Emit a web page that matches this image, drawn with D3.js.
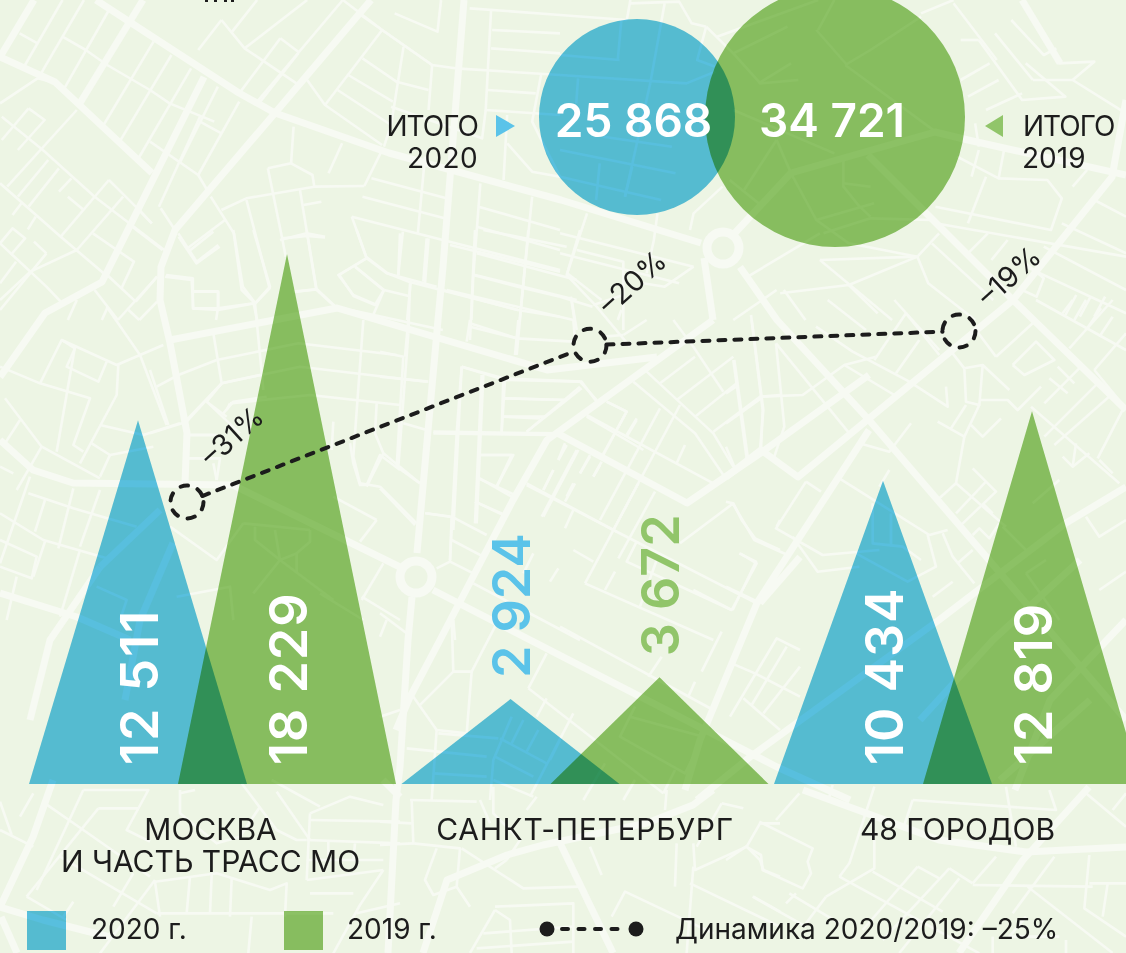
<!DOCTYPE html>
<html lang="ru"><head><meta charset="utf-8">
<script src="https://cdn.jsdelivr.net/npm/d3@7/dist/d3.min.js"></script>
<style>html,body{margin:0;padding:0;background:#edf5e4}svg{display:block}
text{font-family:Inter,"Noto Sans",sans-serif}</style></head><body>
<svg id="c" width="1126" height="953" viewBox="0 0 1126 953"></svg>
<script>
// ---- chart data
const categories = ["МОСКВА|И ЧАСТЬ ТРАСС МО", "САНКТ-ПЕТЕРБУРГ", "48 ГОРОДОВ"];
const values2020 = [12511, 2924, 10434];
const values2019 = [18229, 3672, 12819];
const dynamics = [-31, -20, -19];
const total2020 = 25868;
const total2019 = 34721;
const legendLabels = ["2020 г.", "2019 г.", "Динамика 2020/2019: –25%"];

const majorRoads = [
 "96,0 239,93 275,113 389,153 561,200 701,243","740,267 777,320 869,420 983,553 1126,720",
 "464,0 443,267 438,320 417,553","412,597 408,640 400,767 396,800 388,953",
 "371,0 275,113 175,230 161,267 160,300 170,343 187,433 185,483",
 "0,440 33,470 73,483 233,485 400,567","433,590 777,767 850,800",
 "143,0 80,103","0,57 55,82 152,173","204,77 102,282 45,313 0,377","34,0 0,57",
 "170,340 337,308 547,370 657,357","713,320 547,440 513,500 440,640 410,697 396,730",
 "733,235 791,173 935,132 968,140 1126,175","713,320 704,258",
 "557,433 687,503 762,452 869,375","726,477 761,450 798,477 1013,300 1112,177 1126,100",
 "869,430 757,603 700,740 685,790","1126,487 1066,523 939,620 750,757 697,800",
 "868,155 1013,300 1126,410","1022,0 1060,63",
 "53,780 33,837 0,907","0,907 43,920 110,937","1,917 17,953","383,780 400,797",
 "713,790 693,805 647,823 543,845 507,855 447,880 423,953","560,843 613,953",
 "803,790 866,813 939,840 1026,852 1126,847","1089,787 1023,860 959,953",
 "100,567 160,510","173,543 140,620 125,700","100,567 50,640 30,720",
 "0,593 77,617 130,640","920,720 993,640 1080,560","1000,780 1090,700",
 "1126,620 1050,700 1015,790","800,557 760,603"
];
const minorBlocks = [
 {o:[0,0,2.8,3],l:["0,310 105,235 160,250","55,100 105,130","70,195 175,0","115,220 235,0","175,110 240,150 300,195 420,270 475,310 600,365","180,265 305,30","290,375 430,125","335,425 480,165","385,480 535,205","420,425 555,525 580,570","505,485 610,260","555,525 670,305","560,365 620,400","445,620 560,350","450,625 490,690","425,670 390,630","500,710 550,790 615,740","525,745 630,660","590,590 655,700 680,860 715,910 755,865 690,600","620,630 690,595 880,560 1020,558","750,505 815,490 875,525 880,560","750,505 790,715 800,770","815,490 822,380","840,570 885,865 940,920 1240,990","850,615 900,605","790,715 860,708 910,712","830,875 885,868","985,650 1025,770 1085,820 1145,845 1450,930 1568,950","985,650 1240,720 1568,810","1015,590 1245,655","1040,535 1250,595","1020,558 1070,450","950,825 1025,775","950,825 990,888 1050,915 1075,870 1145,888","995,800 1075,870","1045,945 1075,870","1115,825 1128,695","1190,850 1200,715","1170,700 1190,470","920,520 958,430","860,240 910,315 1070,435","910,315 1070,90","945,270 1095,375","975,225 1100,305","1015,175 1110,245 1200,270","1130,140 1095,375 1075,440","1105,40 1225,95 1235,0","1010,45 1210,195 1275,205 1568,225","1210,195 1200,330","1375,30 1360,330 1568,345","1315,25 1568,45","1378,90 1568,100","1375,145 1568,160","1365,270 1500,280","1095,320 1350,415 1360,330","1420,345 1410,540","1420,430 1490,515 1568,530","1515,225 1490,365 1568,530","1345,550 1325,830 1320,960","1490,590 1455,960","1340,620 1568,690","1335,680 1568,750","1260,735 1568,815","1325,825 1450,860 1568,890","1240,870 1450,930","1150,845 1140,960","620,60 555,150","620,60 685,145 830,250","650,95 720,0","685,145 860,0","720,305 960,0","670,280 785,115","725,310 835,160","785,115 835,155","960,0 1070,90 1210,195","5,350 120,450 265,590 460,750","80,325 125,360 50,450","80,325 5,420","215,330 20,560","135,480 50,590","165,505 80,620","200,535 165,575","190,590 232,628","305,540 170,710","345,590 215,750","305,540 380,620 425,670","0,550 170,710 290,820","35,645 60,610","100,650 78,688","0,730 35,685 70,715 30,765","0,730 130,860 170,905","95,725 130,760","130,760 0,930","215,750 85,815 0,900","45,785 0,850","260,700 375,785 340,865","370,680 455,750","300,825 380,905","265,870 330,960","440,830 330,960","215,900 190,960","300,925 285,960","380,905 440,830","360,930 390,960","440,905 390,960","465,825 540,835 540,925 610,925 710,910 720,960","540,875 610,875 610,925 605,960"]},
 {o:[560,0,2.77,3],l:["0,45 185,60","185,60 195,0","195,10 330,5 365,70 405,80","290,10 275,100 250,250","405,80 380,180 430,200","405,80 480,160 555,250 660,240","0,165 165,180","0,225 350,250 430,215","160,180 170,60","50,235 45,310","250,250 180,590","110,490 100,600","0,450 320,520","0,530 280,600","120,410 310,440","200,500 180,590","435,110 715,0","480,160 630,80","715,90 760,0","710,90 795,195","550,250 640,190","790,195 860,150 1000,50","790,195 1040,395","1000,40 1090,0","1090,10 1210,180","1110,120 1160,120","1160,120 1280,300 1400,290 1290,190","1205,100 1310,240","1250,60 1340,165 1375,145","1190,190 1110,240","1215,240 1130,290","1380,190 1480,185 1420,240 1568,340","1310,240 1420,240","1280,280 1180,330","1150,370 1160,440","1230,450 1215,535 1100,470","1140,530 1160,450","1180,530 1130,670","1215,535 1350,540 1390,595 1360,690 1040,620","1040,670 1568,770","1050,700 990,770 720,780","1420,560 1460,510","1185,700 1130,760","1240,720 1195,780","1480,600 1568,650","1390,670 1568,760","1340,740 1568,870","1290,790 1340,835 1320,890 1280,870","1290,800 1568,940","1430,885 1400,945","1470,890 1440,950","1510,890 1480,950","990,770 1020,850 1150,960","1030,730 1200,900","990,770 800,855 610,880","800,855 880,940","720,780 920,960","620,870 680,960","520,830 720,700","480,960 600,870","75,640 20,820 115,900","0,700 370,800","0,760 330,850","270,640 260,720 240,820","360,690 370,640 450,560","230,850 290,860 370,800","0,890 90,920","30,890 40,960","160,960 170,930","600,420 640,520","600,420 510,570","470,540 550,610","640,520 710,660 800,730 990,770","710,660 870,610","730,700 860,655 1030,660","785,550 860,560","785,480 785,560 830,620 860,650","480,330 760,460"]},
 {o:[150,230,3,3],l:["45,140 125,150 130,235 205,240 205,185 130,185","205,240 315,220","250,0 275,180 315,220 360,170 310,0","85,10 140,95 205,45","115,65 190,5","390,30 470,10 525,20","470,0 500,180 560,235","315,220 340,480","430,185 500,178","190,310 215,460 170,515","200,390 445,340 740,375","85,435 200,390","20,470 85,435","215,460 450,410 830,455","110,575 215,460","0,610 110,575","170,515 230,560","240,520 480,495 750,525","230,540 240,520","0,420 55,585","115,615 200,615","115,685 210,685 200,750","640,270 610,680 630,760 690,770 800,880","775,310 745,710","650,770 700,670 810,760","680,520 675,610 700,670","550,575 545,660","760,580 830,600","650,85 565,135 610,195 680,225","615,110 700,180","650,85 710,130 860,170","890,180 1270,270","750,10 745,135","830,25 820,155","780,160 775,310","620,0 650,85","975,0 960,330","1135,0 1100,375","960,290 1100,325","980,70 1280,150","975,135 1280,210","1000,0 1250,50","1290,0 1250,135 1340,230 1440,350","1265,210 1280,300","1330,225 1420,195","1280,60 1420,95 1420,300","935,410 1060,445 1295,455 1340,515","935,410 910,900","1000,435 980,880","1060,445 1055,605","1060,505 1250,510","1060,560 1170,565","850,605 1220,610","1295,475 1130,605","985,675 1085,675 1040,770","980,740 1085,800","975,815 1060,855","830,850 900,860","1370,515 1430,545 1355,680","1310,560 1480,660","1460,570 1430,620","1250,645 1225,690","1280,660 1175,860","1320,680 1290,730","1350,705 1330,740","1210,720 1180,780","1130,765 1400,905","1270,760 1250,800"]},
 {o:[380,320,3,3],l:["0,95 70,110 50,440 120,490","0,170 145,185","85,0 75,110","270,0 260,65","270,10 410,55","415,0 405,105","410,55 580,65","580,0 585,60","730,45 800,0","670,50 730,45","880,0 940,80 1030,215","600,185 650,240","375,180 600,185","600,200 440,335","375,235 555,240","370,290 495,290","375,180 365,335","245,140 230,340 210,720","245,140 375,180","305,165 285,610","160,340 520,345","300,405 400,405 350,500","295,475 405,525","285,545 375,585","135,580 215,590 320,645","215,590 210,725 170,745","215,660 310,710","210,725 280,760","0,505 105,615","620,285 1000,490","680,245 740,275 670,405","770,295 740,345","840,265 660,600","900,255 700,630","760,185 945,340 1030,465","800,155 1000,340 1060,440","890,240 1060,110","945,290 1070,190","1000,335 1140,230 1200,225","840,190 945,110","1060,120 1100,415","1115,0 1150,270 1140,390","890,430 915,375","440,490 700,630 1130,850","555,370 535,420","595,390 490,590","630,405 600,460","665,425 640,470","520,450 490,510","585,490 555,545","580,570 555,625","775,490 615,790","825,515 715,715","580,690 640,725","535,745 510,785","460,700 430,760","705,755 675,810","770,665 740,725 1055,870 1130,730 1080,700","940,810 1055,870","900,670 1060,550 1085,600 1125,655 1200,690","1190,620 1200,600","280,790 600,960","615,790 1000,960","830,720 780,860","220,900 225,960"]},
 {o:[380,500,3,3],l:["0,340 80,400","100,590 170,690 260,700","120,615 220,515 275,515 350,370","220,515 215,360","0,410 20,360","0,650 60,630","275,515 260,700","170,690 155,900","80,745 320,770","160,820 320,830","175,700 355,715","445,565 500,460","445,565 850,880","500,595 470,650","580,640 450,890","395,650 340,780 330,900","430,660 395,730","475,690 440,755","360,715 500,790","345,770 460,830","510,780 540,720","765,620 720,710 915,820 970,710 750,650","675,790 610,900","885,810 850,880","765,840 730,900","340,840 460,890","1050,650 1190,415 1260,450","1090,595 1200,690","1115,615 1220,440","1150,640 1260,500","1125,520 1260,590","1055,490 1125,520","965,515 1025,395","925,590 945,545","805,530 845,470","540,380 1000,630"]},
 {o:[726,300,3,3],l:["75,45 110,330 105,450","25,180 65,470","150,130 175,380 145,470","150,130 370,400","105,290 230,285 355,195 505,285","355,195 450,170","0,370 105,295","0,280 30,260","0,440 25,500","305,0 420,90","270,80 380,155 550,245 665,320 660,260","445,180 540,40 640,165","510,220 580,120","505,0 640,150","715,205 720,305 760,315 770,195 715,205","765,300 845,300 875,330 945,260","770,195 850,270","680,160 715,205","720,315 675,385","760,315 715,410 635,365","715,410 690,550 640,595","735,375 770,410 825,355","490,510 460,560","400,430 490,455 555,370","690,550 840,680","740,505 810,575 700,680","780,545 690,640","770,610 800,640","915,320 1180,550","810,170 920,70","750,90 810,170","860,195 930,125 985,180 895,225 860,195","1065,200 955,310","995,200 1045,250","970,235 1025,280","1115,250 955,410","1155,285 985,435","1195,320 1115,475","1050,430 1040,500 1010,470","1090,460 1040,500","1120,480 1160,520","1010,40 1040,0","1045,60 1080,0","1080,90 1125,25","1120,110 1160,50","1030,145 1160,0","1105,210 1200,100","930,0 1200,150","1195,320 1105,210","340,535 610,705 665,690","240,545 285,575","240,545 150,685 290,765 460,750","200,710 275,815 400,800","605,705 630,800 545,845 390,760","650,700 680,770 745,850","695,790 740,750","740,705 760,685 790,715 820,670","0,605 20,610 85,720 185,765","40,760 90,785 20,930","0,860 95,905","920,610 1000,540","900,820 960,780","900,820 1000,960","830,680 900,750","1080,650 1120,710 1200,660","1120,870 1200,815","620,890 680,845","440,610 440,730 530,740 585,780","495,640 495,740"]},
 {o:[0,300,3,3],l:["0,200 120,250 270,295 220,435 250,455","120,250 185,120 350,195 490,135","185,120 225,145 200,200 295,245 320,185","320,20 420,165 500,375","225,140 170,455","355,195 350,285 240,490","15,295 125,440 300,535","125,440 50,570","60,360 15,430","0,500 40,520","300,375 430,405 540,370","275,430 330,465 460,440","330,465 300,530","620,305 720,400","560,360 665,250 780,225","670,340 700,305 800,290","565,405 640,405","640,490 650,540","90,530 0,790","85,580 220,625 340,660 410,680","135,600 105,695","220,565 175,745","300,570 240,740","0,640 130,720 320,775","0,720 110,770 95,835 0,800","135,725 100,830","50,830 20,960","240,750 180,950","290,860 380,900 360,960","510,680 650,780 730,670","730,670 930,690","765,680 765,720 840,780 890,760","825,690 840,780","840,780 760,880","1130,660 1080,725","930,690 930,725 890,760 890,820","1000,590 1130,660","1050,430 1060,490 1080,555 1100,555 1140,465 1200,510","1150,790 1085,900","1085,890 1200,960","960,880 1090,960","530,890 690,860 700,960","840,780 1000,900"]},
 {o:[0,780,3,3],l:["0,65 35,165","60,110 100,40","135,70 250,150 450,290","0,150 100,200","250,30 445,30 380,150 450,185","295,85 415,85","295,85 80,350","250,30 110,330","80,350 200,420","180,230 470,400","465,305 480,410","465,305 650,280 810,330 860,310 855,410","570,290 560,400","635,285 630,400","695,295 690,410","470,400 1000,400","755,410 745,519","540,40 585,30","540,30 540,100 650,190 720,170 780,80","930,100 920,300","930,100 1050,50 1150,75","930,120 1200,125","920,180 1200,190","985,185 985,230","1065,190 1060,240","920,240 1150,240","920,300 1150,270","1150,270 1080,375 1000,520","930,340 1060,340","830,35 930,180","815,0 960,80","725,10 830,150 890,180 920,180","465,300 300,520","400,280 340,380","220,365 190,410","1200,370 1070,400"]},
 {o:[380,780,3,3],l:["90,60 290,65","95,60 100,190 240,205 230,320 160,345 135,300 170,205","0,125 95,130","245,205 430,325 600,320","340,20 340,100 420,180 380,240","300,60 330,130","0,195 100,190","380,240 345,265","230,320 270,380","345,390 270,519","345,380 580,370 580,519","345,390 390,420 395,519","310,460 580,440","290,505 580,485","630,200 665,285","860,30 855,90","695,410 735,335 1000,460","940,190 945,270 1100,200 1140,240 1150,270 1200,290","890,190 885,320","930,310 1200,440","940,260 920,519","1120,350 1200,395","1025,70 1090,85","1025,70 950,200","440,90 470,50","1100,200 1140,130 1200,130"]},
 {o:[726,780,3,3],l:["310,50 320,15","220,40 150,120","100,125 260,205 245,245 255,280 230,325 110,270 105,225 60,200 0,240","445,20 370,250 340,290","445,180 445,265 300,350","340,290 760,520","190,340 340,430","180,370 210,340","80,350 240,440","300,350 240,430","440,275 650,395","575,260 410,450","575,260 640,295","670,265 470,480","670,265 740,310","700,295 520,519","740,315 1100,320","560,60 990,90 970,30","560,60 530,150","840,20 870,200","810,230 740,310","985,230 860,400","905,320 1160,519","1090,225 1075,385 1200,470","1200,310 1090,310","1145,310 1130,410","1080,40 1200,140","1160,90 1200,40","1020,480 1020,519","800,470 800,519","900,410 850,470 1000,470"]}
];

const BLUE = "#5bc3e9", GREEN = "#91c56a", INK = "#1c1c1c";
const svg = d3.select("#c");
const pts = s => s.split(" ").map(p => p.split(",").map(Number));
const road = d3.line();

// map
const map = svg.append("g").attr("fill","none").attr("stroke","#f7faf3").attr("stroke-linejoin","round");
minorBlocks.forEach(b => {
  const [ox,oy,sx,sy] = b.o;
  map.append("g").attr("stroke-width",2.6).selectAll("path").data(b.l).join("path")
    .attr("d", s => road(pts(s).map(([x,y]) => [ox+x/sx, oy+y/sy])));
});
map.append("g").attr("stroke-width",7).selectAll("path").data(majorRoads).join("path").attr("d", s => road(pts(s)));
map.append("g").attr("stroke-width",9).attr("fill","#edf5e4").selectAll("circle")
  .data([[723,248],[416,577]]).join("circle").attr("cx",d=>d[0]).attr("cy",d=>d[1]).attr("r",16);

// clipped title remnants at top edge
svg.append("g").attr("fill",INK).selectAll("rect").data([205,214,224,231]).join("rect")
  .attr("x",d=>d).attr("y",0).attr("width",3).attr("height",2);

// scales
const baseY = 784;
const yV = d3.scaleLinear().domain([0, d3.max(values2019)]).range([baseY, 254]);
const xC = d3.scalePoint().domain(categories).range([212.5, 957.5]);
const halfW = 109, off = 74.5;
const yD = d3.scaleLinear().domain([-31,-19]).range([502,331]);
const xD = d3.scaleOrdinal().domain(categories).range([187,590,959]);
const rC = d3.scaleLinear().domain([total2020,total2019]).range([98,130]);
const multiply = sel => sel.style("mix-blend-mode","multiply");

// circles
svg.append("circle").attr("cx",637).attr("cy",117).attr("r",rC(total2020)).attr("fill",BLUE).call(multiply);
svg.append("circle").attr("cx",835).attr("cy",117).attr("r",rC(total2019)).attr("fill",GREEN).call(multiply);

const big = (x,t) => svg.append("text").attr("x",x).attr("y",137).attr("text-anchor","middle")
  .attr("fill","#fff").attr("font-size",46).attr("font-weight",600).text(t);
const fmt = v => d3.format(",")(v).replace(",", " ");
big(633.5,fmt(total2020)); big(832,fmt(total2019));

// totals captions + arrows
const cap = (x,y,a,t,ls) => svg.append("text").attr("x",x).attr("y",y).attr("text-anchor",a).attr("fill",INK)
  .attr("font-size",28).attr("letter-spacing",ls).text(t);
cap(478,136,"end","ИТОГО",-1); cap(478,168,"end","2020",0.4);
cap(1023,136,"start","ИТОГО",-1); cap(1022,168,"start","2019",0);
svg.append("path").attr("d",d3.line()([[496,115],[515,126],[496,137]])+"Z").attr("fill",BLUE);
svg.append("path").attr("d",d3.line()([[1003,115],[985,126],[1003,137]])+"Z").attr("fill",GREEN);

// triangles
const tri = (cx,v) => d3.line()([[cx-halfW,baseY],[cx,yV(v)],[cx+halfW,baseY]])+"Z";
const series = [{vals:values2020,dx:-off,c:BLUE},{vals:values2019,dx:off,c:GREEN}];
series.forEach(s => {
  svg.append("g").selectAll("path").data(categories).join("path")
    .attr("d",(c,i)=>tri(xC(c)+s.dx,s.vals[i])).attr("fill",s.c).call(multiply);
});
series.forEach(s => {
  svg.append("g").selectAll("text").data(categories).join("text")
    .attr("transform",(c,i)=>{
      const v=s.vals[i], x=xC(c)+s.dx+19.5, y = v>5000 ? 765 : yV(v)-21;
      return `translate(${x},${y}) rotate(-90)`;})
    .attr("fill",(c,i)=>s.vals[i]>5000?"#fff":s.c)
    .attr("font-size",52).attr("font-weight",600)
    .attr("letter-spacing",(c,i)=>s.vals[i]>5000?(s.vals[i]===12511?2:1):0)
    .text((c,i)=>fmt(s.vals[i]));
});

// dynamics: dashed link stops at the rings
const ringR = 16.5;
const dynPts = categories.map((c,i)=>[xD(c),yD(dynamics[i])]);
const stroke = sel => sel.attr("fill","none").attr("stroke",INK).attr("stroke-width",4).attr("stroke-linecap","round");
d3.pairs(dynPts).forEach(([a,b])=>{
  const len=Math.hypot(b[0]-a[0],b[1]-a[1]), ux=(b[0]-a[0])/len, uy=(b[1]-a[1])/len;
  svg.append("path").attr("d",d3.line()([[a[0]+ux*ringR,a[1]+uy*ringR],[b[0]-ux*ringR,b[1]-uy*ringR]]))
    .call(stroke).attr("stroke-dasharray","7 9");
});
svg.append("g").selectAll("circle").data(dynPts).join("circle")
  .attr("cx",d=>d[0]).attr("cy",d=>d[1]).attr("r",ringR).call(stroke).attr("stroke-dasharray","7.5 10.2");
const pctOff = [[25,-34],[20,-29],[30,-23]];
svg.append("g").selectAll("text").data(dynamics).join("text")
  .attr("transform",(d,i)=>`translate(${dynPts[i][0]+pctOff[i][0]},${dynPts[i][1]+pctOff[i][1]}) rotate(-42)`)
  .attr("fill",INK).attr("font-size",29).text(d=>"–"+Math.abs(d)+"%");

// category labels
categories.forEach((c,k)=>{
  const parts=c.split("|");
  parts.forEach((t,i)=>svg.append("text").attr("x",xC(c)-(k===0?2:0)).attr("y",840+i*32).attr("text-anchor","middle")
    .attr("fill",INK).attr("font-size",30).attr("letter-spacing",k===1?0.7:0).text(t));
});

// legend
const leg = d3.scaleOrdinal().domain(legendLabels).range([91,347,675]);
svg.append("rect").attr("x",27).attr("y",911).attr("width",39).attr("height",39).attr("fill",BLUE).call(multiply);
svg.append("rect").attr("x",284).attr("y",911).attr("width",39).attr("height",39).attr("fill",GREEN).call(multiply);
svg.append("g").selectAll("text").data(legendLabels).join("text")
  .attr("x",d=>leg(d)).attr("y",939).attr("fill",INK).attr("font-size",28).text(d=>d);
svg.append("line").attr("x1",562).attr("x2",620).attr("y1",929).attr("y2",929).call(stroke).attr("stroke-dasharray","6 10.5");
svg.append("g").selectAll("circle").data([547,636]).join("circle").attr("cx",d=>d).attr("cy",929).attr("r",7.5).attr("fill",INK);
</script></body></html>
